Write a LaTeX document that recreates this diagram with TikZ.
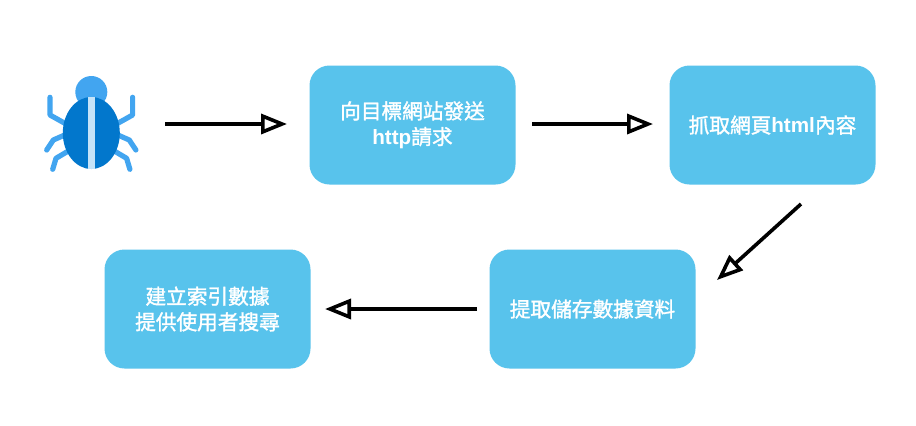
\documentclass[tikz,border=0pt]{standalone}
\usepackage{fontspec}
\usetikzlibrary{arrows.meta}
\newfontfamily\cjkfont[FakeBold=1.6]{Noto Sans CJK TC}
\newfontfamily\latfont{Liberation Sans}
\newcommand{\lat}[1]{{\latfont\bfseries #1}}
\definecolor{boxblue}{HTML}{58C3EC}
\definecolor{bugdark}{HTML}{0277CC}
\definecolor{buglight}{HTML}{42A5F0}
\definecolor{bugstripe}{HTML}{C5E3F8}
\tikzset{
  x=0.75pt,y=-0.75pt,
  stepbox/.style={draw=none,fill=boxblue,rounded corners=15pt,minimum width=154.5pt,minimum height=89.25pt,inner sep=0pt,
    align=center,text=white,font=\cjkfont\fontsize{15.5}{19.2}\selectfont},
  flow/.style={line width=2.7pt,-{Triangle[open,fill=white,length=19.5pt,width=15pt,line width=2.7pt]}},
  leg/.style={draw=buglight,line width=3.9pt,line cap=round,line join=round}
}
\begin{document}
\begin{tikzpicture}
\useasboundingbox (0,0) rectangle (916,425);
\fill[white] (0,0) rectangle (916,425);
% bug
\foreach \s in {0,1}{
  \begin{scope}[shift={(\s*182.6,0)},xscale={1-2*\s}]
    \draw[leg] (50,97.3) -- (50,115) -- (67,124.5);
    \draw[leg] (46.7,150) -- (53.3,140) -- (67,134);
    \draw[leg] (52.7,169.3) -- (56,158.3) -- (70,150);
  \end{scope}
}
\fill[buglight] (91.3,92) circle[radius=16];
\fill[bugdark] (91.3,133) ellipse[x radius=28.5,y radius=36];
\fill[bugstripe] (88.2,96.5) rectangle (94.6,169);
% boxes
\node[stepbox] (send) at (412.5,125) {向目標網站發送\\\lat{http}請求};
\node[stepbox] (grab) at (772.5,125) {抓取網頁\lat{html}內容};
\node[stepbox] (save) at (592.5,309) {提取儲存數據資料};
\node[stepbox] (index) at (207.5,309) {建立索引數據\\提供使用者搜尋};
% free ends
\coordinate (a1s) at (165,124);
\coordinate (a1e) at (287,124);
\coordinate (a2s) at (532,124);
\coordinate (a2e) at (653,124);
\coordinate (a3s) at (801,204);
\coordinate (a3e) at (717,280);
\coordinate (a4s) at (477,309);
\coordinate (a4e) at (325,309);
\draw[flow] (a1s) -- (a1e);
\draw[flow] (a2s) -- (a2e);
\draw[flow] (a3s) -- (a3e);
\draw[flow] (a4s) -- (a4e);
\end{tikzpicture}
\end{document}
